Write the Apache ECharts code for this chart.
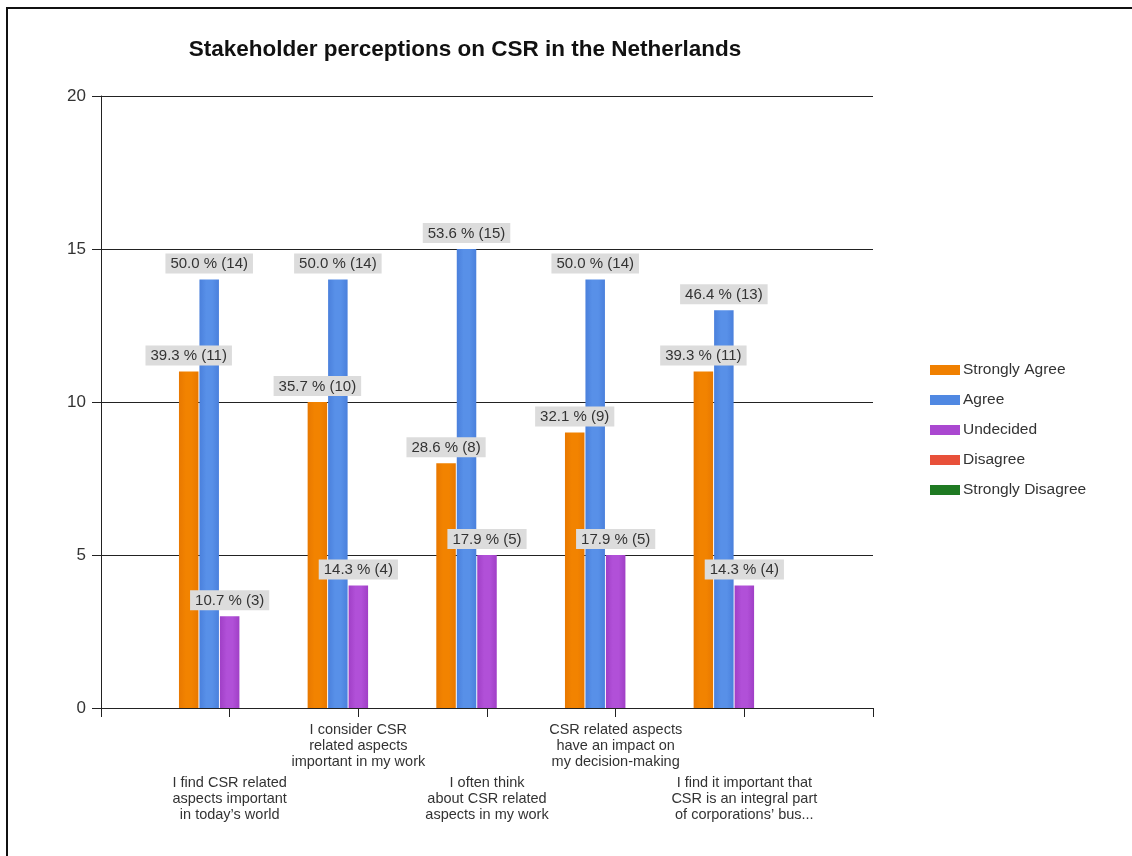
<!DOCTYPE html>
<html>
<head>
<meta charset="utf-8">
<title>Stakeholder perceptions on CSR in the Netherlands</title>
<script src="https://cdn.jsdelivr.net/npm/echarts@6/dist/echarts.min.js"></script>
<style>
  html, body { margin: 0; padding: 0; background: #ffffff; }
  #chart { width: 1132px; height: 856px; }
</style>
</head>
<body>
<div id="chart"></div>
<script>
// Survey statements (x-axis categories)
const statements = [
  "I find CSR related\naspects important\nin today\u2019s world",
  "I consider CSR\nrelated aspects\nimportant in my work",
  "I often think\nabout CSR related\naspects in my work",
  "CSR related aspects\nhave an impact on\nmy decision-making",
  "I find it important that\nCSR is an integral part\nof corporations\u2019 bus..."
];

// Answer options (legend)
const answers = ["Strongly Agree", "Agree", "Undecided", "Disagree", "Strongly Disagree"];

// Respondent counts per answer, one value per statement
const stronglyAgree    = [11, 10, 8, 9, 11];
const agree            = [14, 14, 15, 14, 13];
const undecided        = [3, 4, 5, 5, 4];
const disagree         = [0, 0, 0, 0, 0];
const stronglyDisagree = [0, 0, 0, 0, 0];

// Total number of respondents (base for the percentages)
const respondents = 28;

// Y-axis ticks
const yTicks = [0, 5, 10, 15, 20];

const FONT = "'Liberation Sans', Arial, sans-serif";

function grad(edge, mid) {
  return new echarts.graphic.LinearGradient(0, 0, 1, 0, [
    { offset: 0, color: edge },
    { offset: 0.35, color: mid },
    { offset: 0.65, color: mid },
    { offset: 1, color: edge }
  ]);
}

const seriesDefs = [
  { data: stronglyAgree,    color: grad('#e87800', '#f28300'), legend: '#f08000' },
  { data: agree,            color: grad('#4a80dc', '#5890e8'), legend: '#5088e2' },
  { data: undecided,        color: grad('#a03fc6', '#b150d8'), legend: '#aa48d0' },
  { data: disagree,         color: '#e8503a', legend: '#e8503a' },
  { data: stronglyDisagree, color: '#1f7a22', legend: '#1f7a22' }
];

// Blank slots at both ends give the half-open look of the category axis
const xCategories = [''].concat(statements, ['']);

const series = seriesDefs.map((s, i) => ({
  name: answers[i],
  type: 'bar',
  barWidth: 19.5,
  barGap: '5%',
  itemStyle: { color: s.color },
  data: [null].concat(s.data.map(v => ({
    value: v,
    label: { show: v > 0 }
  })), [null]),
  label: {
    show: true,
    position: 'top',
    distance: 6,
    backgroundColor: '#dcdcdc',
    padding: [3, 5, 2, 5],
    color: '#333333',
    fontFamily: FONT,
    fontSize: 15,
    formatter: p => (p.value / respondents * 100).toFixed(1) + ' % (' + p.value + ')'
  },
  labelLayout: { hideOverlap: false },
  emphasis: { disabled: true }
}));

const chart = echarts.init(document.getElementById('chart'), null, { renderer: 'canvas' });

chart.setOption({
  animation: false,
  backgroundColor: '#ffffff',
  color: seriesDefs.map(s => s.legend),
  title: {
    text: 'Stakeholder perceptions on CSR in the Netherlands',
    left: 460,
    top: 33,
    textAlign: 'center',
    textStyle: { fontFamily: FONT, fontSize: 22.5, fontWeight: 'bold', color: '#111111' }
  },
  legend: {
    orient: 'vertical',
    left: 925,
    top: 357,
    icon: 'rect',
    itemWidth: 30,
    itemHeight: 10,
    itemGap: 14,
    textStyle: { fontFamily: FONT, fontSize: 15.5, lineHeight: 16, color: '#333333', padding: [0, 0, 0, -2] },
    data: answers.map((a, i) => ({ name: a, itemStyle: { color: seriesDefs[i].legend } })),
    selectedMode: false
  },
  grid: { left: 101, right: 259, top: 96, bottom: 148, containLabel: false },
  xAxis: {
    type: 'category',
    data: xCategories,
    boundaryGap: false,
    axisLine: { lineStyle: { color: '#222222', width: 1 } },
    axisTick: { show: true, length: 9, inside: false, lineStyle: { color: '#222222' }, alignWithLabel: true },
    splitLine: { show: false },
    axisLabel: {
      interval: 0,
      margin: 14,
      color: '#333333',
      align: 'center',
      rich: {
        t: { fontFamily: FONT, fontSize: 14.5, lineHeight: 16, color: '#333333', align: 'center' },
        sp: { fontFamily: FONT, fontSize: 10, lineHeight: 53 }
      },
      formatter: (v, idx) => {
        if (!v) return '';
        const body = v.split('\n').map(line => '{t|' + line + '}').join('\n');
        // odd positions sit lower, leaving room for their neighbours
        return (idx % 2 === 1) ? '{sp| }\n' + body : body;
      }
    }
  },
  yAxis: {
    type: 'value',
    min: yTicks[0],
    max: yTicks[yTicks.length - 1],
    interval: yTicks[1] - yTicks[0],
    axisLine: { show: true, lineStyle: { color: '#222222', width: 1 } },
    axisTick: { show: true, length: 9, lineStyle: { color: '#222222' } },
    splitLine: { show: true, lineStyle: { color: '#222222', width: 1 } },
    axisLabel: { margin: 15, fontFamily: FONT, fontSize: 17, color: '#333333' }
  },
  graphic: [
    { type: 'line', shape: { x1: 7, y1: 8, x2: 1132, y2: 8 }, style: { stroke: '#111111', lineWidth: 2 }, silent: true },
    { type: 'line', shape: { x1: 7, y1: 7, x2: 7, y2: 856 }, style: { stroke: '#111111', lineWidth: 2 }, silent: true }
  ],
  series: series
});
</script>
</body>
</html>
